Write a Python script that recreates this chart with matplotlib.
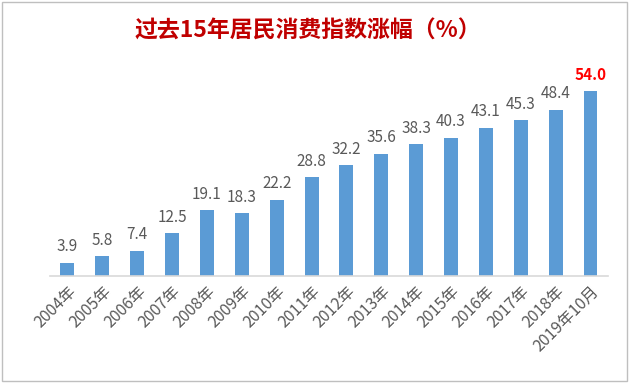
import matplotlib.pyplot as plt
from matplotlib.patches import Rectangle

plt.rcParams['font.family'] = ['Noto Sans CJK SC', 'DejaVu Sans']

years = ['2004年', '2005年', '2006年', '2007年', '2008年', '2009年', '2010年', '2011年',
         '2012年', '2013年', '2014年', '2015年', '2016年', '2017年', '2018年', '2019年10月']
values = [3.9, 5.8, 7.4, 12.5, 19.1, 18.3, 22.2, 28.8, 32.2, 35.6, 38.3, 40.3, 43.1, 45.3, 48.4, 54.0]

fig = plt.figure(figsize=(6.29, 3.83), dpi=100)
ax = fig.add_axes([0.0795, 0.2794, 0.887, 0.538])

x = range(len(values))
ax.bar(x, values, width=0.4, color='#5B9BD5')

for i, v in enumerate(values):
    if i == len(values) - 1:
        ax.text(i, v + 2.2, '%.1f' % v, ha='center', va='bottom', fontsize=11,
                color='#FF0000', fontweight='bold')
    else:
        ax.text(i, v + 2.2, '%.1f' % v, ha='center', va='bottom', fontsize=11,
                color='#595959', fontweight='light')

ax.set_xlim(-0.5, len(values) - 0.5)
ax.set_ylim(0, 60)
ax.set_xticks(list(x))
ax.set_xticklabels(years, rotation=45, ha='right', rotation_mode='anchor',
                   fontsize=11.5, color='#595959', fontweight='light')
ax.tick_params(axis='x', length=0, pad=5)
ax.set_yticks([])
for s in ['top', 'right', 'left']:
    ax.spines[s].set_visible(False)
ax.spines['bottom'].set_color('#D9D9D9')
ax.spines['bottom'].set_linewidth(1.2)

fig.text(0.49, 0.918, '过去15年居民消费指数涨幅（%）', ha='center', va='center',
         fontsize=16.5, fontweight='bold', color='#C00000')

fig.patches.append(Rectangle((0.003, 0.004), 0.994, 0.99, transform=fig.transFigure,
                             fill=False, edgecolor='#BFBFBF', linewidth=1))

fig.savefig('out.png', dpi=100)
